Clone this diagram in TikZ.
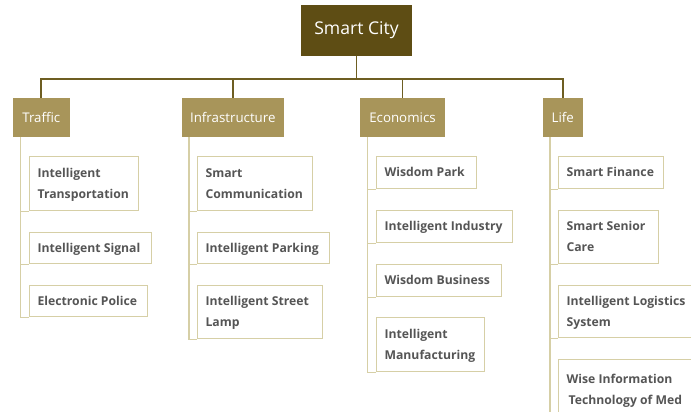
\documentclass[tikz,border=0pt]{standalone}
\usepackage{fontspec}
\setmainfont{Open Sans}
\definecolor{rootfill}{HTML}{5E4D14}
\definecolor{catfill}{HTML}{A8955A}
\definecolor{leafline}{HTML}{D6CFA6}
\definecolor{leafshadow}{HTML}{C8C09A}
\definecolor{trunkcol}{HTML}{6E5E22}
\definecolor{leaftext}{HTML}{555555}
\tikzset{
  rootbox/.style={fill=rootfill, text=white, inner sep=0pt, minimum width=111pt, minimum height=51pt, font=\fontsize{17.6}{20}\selectfont},
  catbox/.style={fill=catfill, text=white, inner sep=0pt, minimum height=39pt, font=\fontsize{13.3}{16}\selectfont},
  leafbox/.style={draw=leafline, line width=1.2pt, fill=white, text=leaftext, inner xsep=8pt, inner ysep=0pt, anchor=north west, font=\bfseries\fontsize{12.2}{21}\selectfont},
  trunk/.style={draw=trunkcol, line width=1.8pt},
  spine/.style={draw=leafline, line width=1.4pt},
}
\newcommand{\leaf}[6]{% name, x, y, width, height, text
  \fill[leafshadow] (#2+1.2,#3+1.2) rectangle ++(#4,#5);
  \node[leafbox, minimum width=#4pt, minimum height=#5pt] (#1) at (#2,#3)
    {\makebox[\dimexpr#4pt-16pt\relax][l]{\begin{tabular}{@{}l@{}}#6\end{tabular}}};
}
\begin{document}
\begin{tikzpicture}[x=1pt,y=-1pt]
\useasboundingbox (0,0) rectangle (691,412);
\clip (0,0) rectangle (691,412);
% root and categories
\node[rootbox] (root) at (356.5,30.5) {Smart City};
\node[catbox, minimum width=57pt] (traffic) at (41.3,117.5) {Traffic};
\node[catbox, minimum width=102pt] (infra) at (232.8,117.5) {Infrastructure};
\node[catbox, minimum width=85pt] (econ) at (402.5,117.5) {Economics};
\node[catbox, minimum width=40pt] (life) at (562.8,117.5) {Life};
\coordinate (bar) at (356.5,79);
\draw[trunk] (root.south) -- (bar);
\draw[trunk] (bar) -| (traffic.north);
\draw[trunk] (bar) -| (infra.north);
\draw[trunk] (bar) -| (econ.north);
\draw[trunk] (bar) -| (life.north);
% spine anchors
\coordinate (ts) at ([xshift=8pt]traffic.south west);
\coordinate (is) at ([xshift=7.5pt]infra.south west);
\coordinate (es) at ([xshift=7.5pt]econ.south west);
\coordinate (ls) at ([xshift=7.5pt]life.south west);
\coordinate (lend) at (ls |- 0,412);
\draw[spine] (ls) -- (lend);
% Traffic leaves
\leaf{t1}{29}{156}{109}{54}{Intelligent\\Transportation}
\leaf{t2}{29}{232}{122}{31}{Intelligent Signal}
\leaf{t3}{29}{285}{118}{31}{Electronic Police}
% Infrastructure leaves
\leaf{i1}{197}{156}{115}{54}{Smart\\Communication}
\leaf{i2}{197}{232}{132}{31}{Intelligent Parking}
\leaf{i3}{197}{285}{125}{53}{Intelligent Street\\Lamp}
% Economics leaves
\leaf{e1}{376}{156}{100}{32}{Wisdom Park}
\leaf{e2}{376}{210}{136}{32}{Intelligent Industry}
\leaf{e3}{376}{264}{125}{32}{Wisdom Business}
\leaf{e4}{376}{317}{108}{54}{Intelligent\\Manufacturing}
% Life leaves
\leaf{l1}{558}{156}{105}{32}{Smart Finance}
\leaf{l2}{558}{210}{100}{53}{Smart Senior\\Care}
\leaf{l3}{558}{285}{150}{52}{Intelligent Logistics\\System}
\leaf{l4}{558}{359}{150}{60}{Wise Information\\\hspace*{2pt}Technology of Med}
% connectors from spines to leaves
\foreach \s/\l in {ts/t1,ts/t2,ts/t3,is/i1,is/i2,is/i3,es/e1,es/e2,es/e3,es/e4,ls/l1,ls/l2,ls/l3}
  \draw[spine] (\s) |- (\l.south west);
\end{tikzpicture}
\end{document}
